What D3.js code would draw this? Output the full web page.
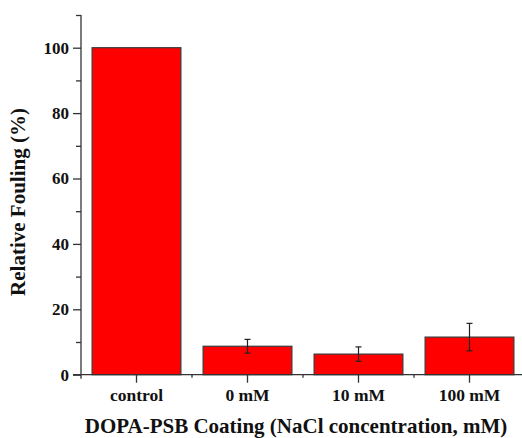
<!DOCTYPE html>
<html>
<head>
<meta charset="utf-8">
<script src="https://cdn.jsdelivr.net/npm/d3@7"></script>
<style>
  html, body { margin: 0; padding: 0; background: #fff; }
  svg { display: block; }
</style>
</head>
<body>
<svg id="chart" width="522" height="438"></svg>
<script>
const categories = ["control", "0 mM", "10 mM", "100 mM"];
const values = [100, 8.7, 6.3, 11.5];
const errors = [0, 2.1, 2.2, 4.2];
const yMajorTicks = [0, 20, 40, 60, 80, 100];
const yMinorTicks = [10, 30, 50, 70, 90, 110];
const xTitle = "DOPA-PSB Coating (NaCl concentration, mM)";
const yTitle = "Relative Fouling (%)";

(function () {
const FONT = "'Liberation Serif', 'Times New Roman', Times, 'DejaVu Serif', serif";
const svg = d3.select("#chart");
const mLeft = 81, mRight = 525, mTop = 15, mBottom = 374.7;
const axisColor = "#333";

const x = d3.scaleBand().domain(categories).range([mLeft, mRight]).paddingInner(0.2).paddingOuter(0.1);
const y = d3.scaleLinear().domain([0, 110]).range([mBottom, mTop]);

// bars
svg.append("g").selectAll("rect").data(categories).join("rect")
  .attr("x", d => x(d))
  .attr("y", (d, i) => y(values[i]))
  .attr("width", x.bandwidth())
  .attr("height", (d, i) => y(0) - y(values[i]))
  .attr("fill", "#ff0000")
  .attr("stroke", "#3a3a3a")
  .attr("stroke-width", 1.2);

// error bars
const eg = svg.append("g").attr("stroke", "#222").attr("stroke-width", 1.2);
categories.forEach((c, i) => {
  if (errors[i] <= 0) return;
  const cx = x(c) + x.bandwidth() / 2;
  const y1 = y(values[i] + errors[i]), y2 = y(values[i] - errors[i]);
  eg.append("line").attr("x1", cx).attr("x2", cx).attr("y1", y1).attr("y2", y2);
  eg.append("line").attr("x1", cx - 3).attr("x2", cx + 3).attr("y1", y1).attr("y2", y1);
  eg.append("line").attr("x1", cx - 3).attr("x2", cx + 3).attr("y1", y2).attr("y2", y2);
});

function styleText(sel, size) {
  sel.style("font-family", FONT).style("font-weight", "bold").style("font-size", size).attr("fill", "#111");
}

// y axis
const yAxis = svg.append("g").attr("transform", `translate(${mLeft},0)`)
  .call(d3.axisLeft(y).tickValues(yMajorTicks).tickSize(8).tickSizeOuter(0).tickPadding(4).tickFormat(d3.format("d")));
yAxis.select(".domain").remove();
yAxis.selectAll(".tick line").attr("stroke", axisColor).attr("stroke-width", 1.3);
styleText(yAxis.selectAll(".tick text"), "17px");

const yMinor = svg.append("g").attr("transform", `translate(${mLeft},0)`)
  .call(d3.axisLeft(y).tickValues(yMinorTicks).tickSize(5).tickFormat(""));
yMinor.select(".domain").remove();
yMinor.selectAll(".tick line").attr("stroke", axisColor).attr("stroke-width", 1.3);

svg.append("line").attr("x1", mLeft).attr("x2", mLeft).attr("y1", y(110)).attr("y2", mBottom + 4)
  .attr("stroke", axisColor).attr("stroke-width", 1.3);

// x axis
const xAxis = svg.append("g").attr("transform", `translate(0,${mBottom})`)
  .call(d3.axisBottom(x).tickSize(8).tickSizeOuter(0).tickPadding(6));
xAxis.select(".domain").remove();
xAxis.selectAll(".tick line").attr("stroke", axisColor).attr("stroke-width", 1.3);
styleText(xAxis.selectAll(".tick text"), "17.5px");

const bounds = categories.slice(0, -1).map(c => x(c) + x.bandwidth() + (x.step() - x.bandwidth()) / 2);
svg.append("g").selectAll("line").data(bounds).join("line")
  .attr("x1", d => d).attr("x2", d => d).attr("y1", mBottom).attr("y2", mBottom + 3)
  .attr("stroke", axisColor).attr("stroke-width", 1.3);

svg.append("line").attr("x1", mLeft - 8).attr("x2", 522).attr("y1", mBottom).attr("y2", mBottom)
  .attr("stroke", axisColor).attr("stroke-width", 1.3);

// titles
styleText(svg.append("text").attr("x", 296).attr("y", 433).attr("text-anchor", "middle").text(xTitle), "21px");
styleText(svg.append("text").attr("transform", `translate(25,202) rotate(-90)`).attr("text-anchor", "middle").text(yTitle), "21px");
})();
</script>
</body>
</html>
